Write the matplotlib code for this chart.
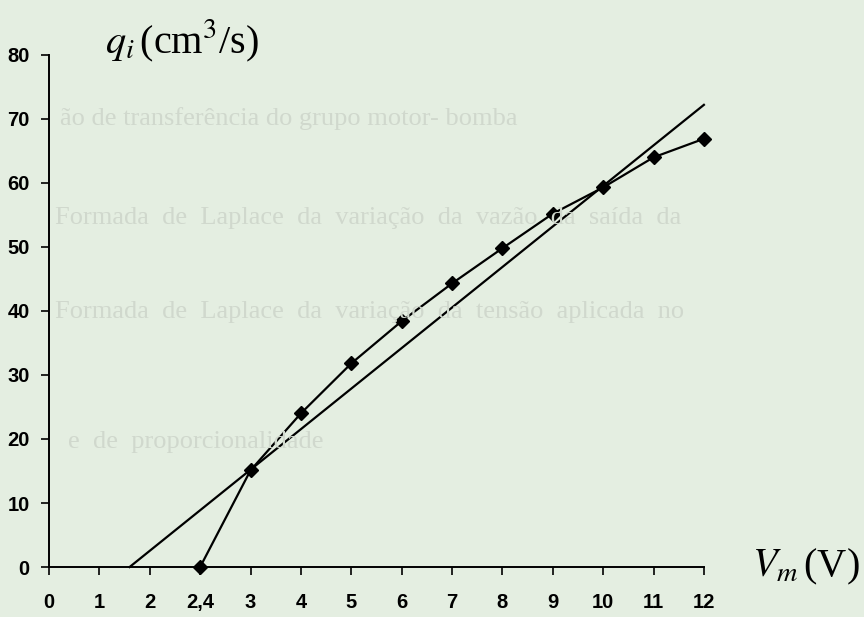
#Recreation of the scanned motor-pump flow chart q_i vs V_m
#The x axis is categorical: 2,4 gets its own slot between 2 and 3

from matplotlib import pyplot as plt
import numpy as np

plt.rcParams['mathtext.fontset'] = 'stix'

x_labels = ['0', '1', '2', '2,4', '3', '4', '5', '6', '7', '8', '9', '10', '11', '12']
measured_v = ['2,4', '3', '4', '5', '6', '7', '8', '9', '10', '11', '12']
measured_q = [0, 15.1, 24.0, 31.8, 38.4, 44.3, 49.8, 55.2, 59.3, 64.0, 66.9]

#straight approximation, in axis slot units (0 = '0', 13 = '12')
fit_slot = [1.6, 13]
fit_q = [0, 72.2]

y_ticks = np.arange(0, 81, 10)

#faint show-through text from the scanned page
bleed = [
    (0.07, 0.808, 'ão de transferência do grupo motor- bomba'),
    (0.064, 0.647, 'Formada  de  Laplace  da  variação  da  vazão  da  saída  da'),
    (0.064, 0.495, 'Formada  de  Laplace  da  variação  da  tensão  aplicada  no'),
    (0.079, 0.283, 'e  de  proporcionalidade'),
]

bg = '#e4eee1'
fig = plt.figure(figsize=(8.64, 6.17), dpi=100, facecolor=bg)

for bx, by, txt in bleed:
    fig.text(bx, by, txt, fontsize=19, family='Liberation Serif',
             color='#d0d8cd', va='center', ha='left', zorder=0)

ax = fig.add_axes([0.0567, 0.081, 0.758, 0.830])
ax.set_facecolor('none')

slots = np.arange(len(x_labels))
meas_slots = [x_labels.index(v) for v in measured_v]

ax.plot(fit_slot, fit_q, color='black', linewidth=1.6, clip_on=False, zorder=3)
ax.plot(meas_slots, measured_q, color='black', linewidth=1.6, marker='D',
        markersize=7, clip_on=False, zorder=4)

ax.set_xlim(0, len(x_labels) - 1)
ax.set_ylim(0, 80)
ax.set_xticks(slots)
ax.set_xticklabels(x_labels)
ax.set_yticks(y_ticks)

for side in ['top', 'right']:
    ax.spines[side].set_visible(False)
for side in ['left', 'bottom']:
    ax.spines[side].set_linewidth(1.4)

ax.tick_params(axis='x', direction='out', length=6, width=1.2, pad=13,
               labelsize=14.5)
ax.tick_params(axis='y', direction='out', length=6, width=1.2, pad=8,
               labelsize=14.5)
for lab in ax.get_xticklabels() + ax.get_yticklabels():
    lab.set_family('Liberation Sans')
    lab.set_fontweight('bold')

fig.text(0.122, 0.934, r'$q_i\,$(cm$^3$/s)', fontsize=29,
         family='Liberation Serif', va='center', ha='left')
fig.text(0.995, 0.081, r'$V_m\,$(V)', fontsize=29,
         family='Liberation Serif', va='center', ha='right')

plt.savefig('out.png', dpi=100, facecolor=bg)
